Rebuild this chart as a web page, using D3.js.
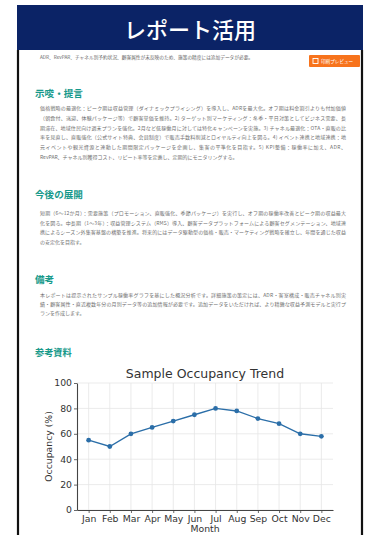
<!DOCTYPE html>
<html><head><meta charset="utf-8">
<script src="https://cdn.jsdelivr.net/npm/d3@7"></script>
<style>
html,body{margin:0;padding:0;background:#fff;}
svg{display:block;}
</style></head>
<body>
<script>
const months = ["Jan","Feb","Mar","Apr","May","Jun","Jul","Aug","Sep","Oct","Nov","Dec"];
const occupancy = [55,50,60,65,70,75,80,78,72,68,60,58];
const yTicks = [0,20,40,60,80,100];
const pageTitle = "レポート活用";
const topNote = "ADR、RevPAR、チャネル別予約状況、顧客属性が未反映のため、施策の精度には追加データが必要。";
const buttonLabel = "印刷プレビュー";
const sections = [
  {title:"示唆・提言", lines:[
    "価格戦略の最適化：ピーク期は収益管理（ダイナミックプライシング）を導入し、ADRを最大化。オフ期は料金割引よりも付加価値",
    "（朝食付、送迎、体験パッケージ等）で顧客単価を維持。2) ターゲット別マーケティング：冬季・平日対策としてビジネス需要、長",
    "期滞在、地域住民向け週末プランを強化。2月など低稼働月に対しては特化キャンペーンを実施。3) チャネル最適化：OTA・直販の比",
    "率を見直し、直販強化（公式サイト特典、会員制度）で販売手数料削減とロイヤルティ向上を図る。4) イベント連携と地域連携：地",
    "元イベントや観光資源と連動した期間限定パッケージを企画し、集客の平準化を目指す。5) KPI整備：稼働率に加え、ADR、",
    "RevPAR、チャネル別獲得コスト、リピート率等を定義し、定期的にモニタリングする。"]},
  {title:"今後の展開", lines:[
    "短期（6〜12か月）：需要施策（プロモーション、直販強化、季節パッケージ）を実行し、オフ期の稼働率改善とピーク期の収益最大",
    "化を図る。中長期（1〜3年）：収益管理システム（RMS）導入、顧客データプラットフォームによる顧客セグメンテーション、地域連",
    "携によるシーズン外集客基盤の構築を推進。将来的にはデータ駆動型の価格・販売・マーケティング戦略を確立し、年間を通じた収益",
    "の安定化を目指す。"]},
  {title:"備考", lines:[
    "本レポートは提示されたサンプル稼働率グラフを基にした概況分析です。詳細施策の策定には、ADR・客室構成・販売チャネル別実",
    "績・顧客属性・直近複数年分の月別データ等の追加情報が必要です。追加データをいただければ、より精緻な収益予測モデルと実行プ",
    "ランを作成します。"]}
];
const refTitle = "参考資料";
const chartTitle = "Sample Occupancy Trend";
const xLabel = "Month";
const yLabel = "Occupancy (%)";

const W = 365, H = 535;
const svg = d3.select("body").append("svg").attr("width", W).attr("height", H);
const jp = "'Noto Sans CJK JP','Noto Sans',sans-serif";

// header
svg.append("rect").attr("x",17).attr("y",5).attr("width",346).attr("height",45).attr("fill","#0b2366");
svg.append("text").attr("x",190).attr("y",28).attr("text-anchor","middle").attr("dominant-baseline","central")
  .attr("fill","#fff").attr("font-family",jp).attr("font-size",22).attr("font-weight",500).text(pageTitle);

// box border
svg.append("path").attr("d","M18,50 V535 M362,50 V535").attr("stroke","#111").attr("stroke-width",2.2).attr("fill","none");

// top note
svg.append("text").attr("x",40).attr("y",57).attr("dominant-baseline","central")
  .attr("fill","#666").attr("font-family",jp).attr("font-size",4.7).text(topNote);

// button
const btn = svg.append("g");
btn.append("rect").attr("x",309).attr("y",55).attr("width",51).attr("height",12).attr("rx",1).attr("fill","#f7731c");
btn.append("rect").attr("x",313).attr("y",58.5).attr("width",5).attr("height",5).attr("fill","none").attr("stroke","#fff").attr("stroke-width",0.9);
btn.append("text").attr("x",321).attr("y",61.2).attr("dominant-baseline","central").attr("fill","#fff")
  .attr("font-family",jp).attr("font-size",4.6).text(buttonLabel);

// sections
const headY = [93, 194, 279];
const lineY = [[107.3,117.5,127.2,136.8,146.6,156],[212.7,222.3,231.7,241],[294,303.4,312.8]];
const textLeft = 40, textRight = 346;
sections.forEach((s,i)=>{
  svg.append("text").attr("x",35).attr("y",headY[i]).attr("dominant-baseline","central")
    .attr("fill","#16998a").attr("font-family",jp).attr("font-size",9.6).attr("font-weight",700).text(s.title);
  s.lines.forEach((l,j)=>{
    const t = svg.append("text").attr("x",textLeft).attr("y",lineY[i][j]).attr("dominant-baseline","central")
      .attr("fill","#6f6f6f").attr("font-family",jp).attr("font-size",5).text(l);
    if (j < s.lines.length-1) t.attr("textLength", textRight-textLeft).attr("lengthAdjust","spacing");
  });
});
svg.append("text").attr("x",35).attr("y",352).attr("dominant-baseline","central")
  .attr("fill","#16998a").attr("font-family",jp).attr("font-size",9.2).attr("font-weight",700).text(refTitle);

// chart
const cf = "'DejaVu Sans',sans-serif";
const L = 77, R = 333, T = 383, B = 510;
const x = d3.scalePoint().domain(months).range([L,R]).padding(0.55);
const y = d3.scaleLinear().domain([0,100]).range([B,T]);
const g = svg.append("g");

// grid
g.append("g").selectAll("line").data(months).join("line")
  .attr("x1",d=>x(d)).attr("x2",d=>x(d)).attr("y1",T).attr("y2",B).attr("stroke","#e6e6e6").attr("stroke-width",0.8);
g.append("g").selectAll("line").data(yTicks).join("line")
  .attr("x1",L).attr("x2",R).attr("y1",d=>y(d)).attr("y2",d=>y(d)).attr("stroke","#e6e6e6").attr("stroke-width",0.8);

const xAxis = g.append("g").attr("transform",`translate(0,${B})`)
  .call(d3.axisBottom(x).tickSize(3).tickPadding(2).tickSizeOuter(0));
const yAxis = g.append("g").attr("transform",`translate(${L},0)`)
  .call(d3.axisLeft(y).tickValues(yTicks).tickSize(3).tickPadding(2).tickSizeOuter(0));
[xAxis,yAxis].forEach(a=>{
  a.select(".domain").attr("stroke","#444").attr("stroke-width",1.1);
  a.selectAll(".tick line").attr("stroke","#444").attr("stroke-width",0.8);
  a.selectAll(".tick text").attr("fill","#333").attr("font-family",cf).attr("font-size",9.3);
});

const line = d3.line().x((d,i)=>x(months[i])).y(d=>y(d));
g.append("path").datum(occupancy).attr("d",line).attr("fill","none").attr("stroke","#2b6ea8").attr("stroke-width",1.4);
g.append("g").selectAll("circle").data(occupancy).join("circle")
  .attr("cx",(d,i)=>x(months[i])).attr("cy",d=>y(d)).attr("r",2.4).attr("fill","#2b6ea8");

svg.append("text").attr("x",(L+R)/2).attr("y",373).attr("text-anchor","middle").attr("dominant-baseline","central")
  .attr("fill","#333").attr("font-family",cf).attr("font-size",12.5).text(chartTitle);
svg.append("text").attr("x",(L+R)/2).attr("y",528).attr("text-anchor","middle").attr("dominant-baseline","central")
  .attr("fill","#333").attr("font-family",cf).attr("font-size",9.3).text(xLabel);
svg.append("text").attr("transform",`translate(48,${(T+B)/2}) rotate(-90)`).attr("text-anchor","middle").attr("dominant-baseline","central")
  .attr("fill","#333").attr("font-family",cf).attr("font-size",9.3).text(yLabel);
</script>
</body></html>
